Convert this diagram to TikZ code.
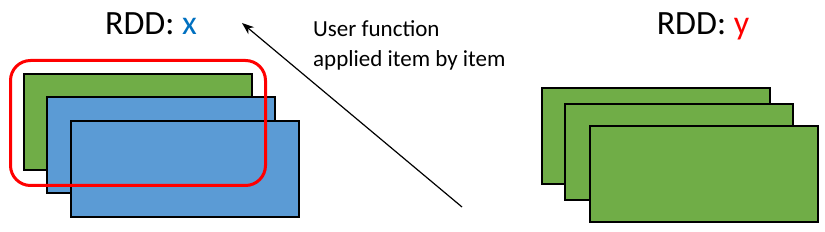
\documentclass[tikz,border=0pt]{standalone}
\usepackage{fontspec}
\setmainfont{Carlito}
\usetikzlibrary{arrows.meta,positioning}
\definecolor{partgreen}{HTML}{70AD47}
\definecolor{partblue}{HTML}{5B9BD5}
\definecolor{xblue}{HTML}{0070C0}
\definecolor{markred}{HTML}{FF0000}
\tikzstyle{partition} = [
    rectangle,
    draw=black,
    line width=2pt,
    minimum width=228pt,
    minimum height=96pt,
    inner sep=0pt
]
\tikzstyle{title} = [
    font=\fontsize{34}{40}\selectfont,
    anchor=base,
    inner sep=0pt
]
\tikzstyle{arrow} = [
    -{Stealth[length=12pt,width=9pt]},
    line width=1.2pt,
    draw=black
]
\begin{document}
\begin{tikzpicture}[x=1pt, y=1pt]
    \useasboundingbox (0,0) rectangle (825,232);

    % RDD x (left)
    \node[title] (xtitle) at (151,197) {RDD: \textcolor{xblue}{x}};
    \node[partition, fill=partgreen] (xa) at (137.5,110) {};
    \node[partition, fill=partblue] (xb) at (161,86.5) {};
    \node[partition, fill=partblue] (xc) at (184.5,62.5) {};

    % Current item highlighted
    \node[rectangle, rounded corners=20pt, draw=markred, line width=3pt,
        minimum width=255pt, minimum height=125pt] (current) at (138,109) {};

    % User function label and arrow
    \node[anchor=base west, align=left, inner sep=0pt,
        font=\fontsize{23}{30}\selectfont] (func) at (313,165) {User function\\applied item by item};
    \coordinate (fstart) at (462,25);
    \coordinate (fend) at (242,209);
    \draw[arrow] (fstart) -- (fend);

    % RDD y (right)
    \node[title] (ytitle) at (703,197) {RDD: \textcolor{markred}{y}};
    \node[partition, fill=partgreen] (ya) at (656,95.5) {};
    \node[partition, fill=partgreen] (yb) at (679,79.5) {};
    \node[partition, fill=partgreen] (yc) at (704,58) {};
\end{tikzpicture}
\end{document}
